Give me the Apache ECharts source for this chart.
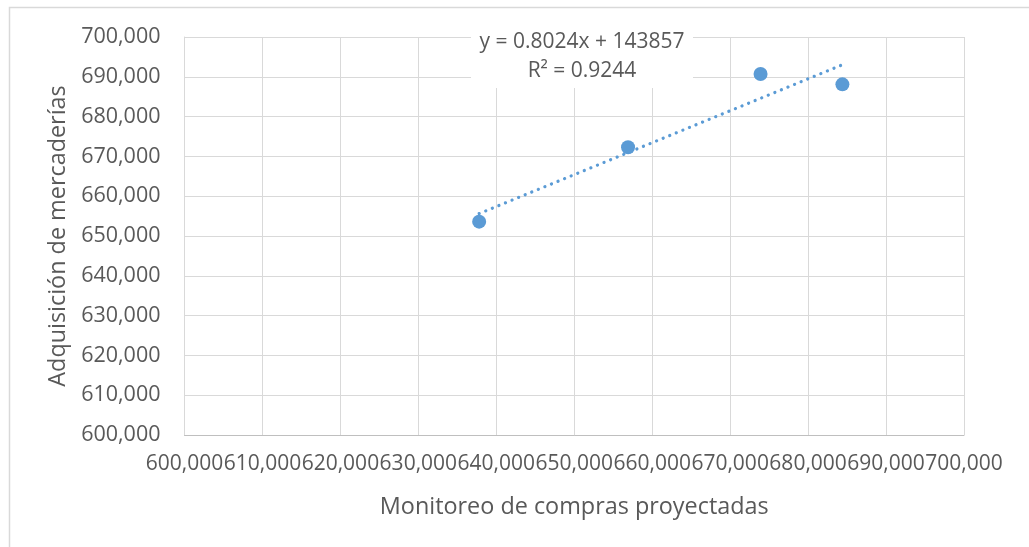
<!DOCTYPE html>
<html>
<head>
<meta charset="utf-8">
<script src="https://cdn.jsdelivr.net/npm/echarts@6/dist/echarts.min.js"></script>
<style>
  html, body { margin: 0; padding: 0; background: #fff; }
  #container { width: 1029px; height: 547px; }
</style>
</head>
<body>
<div id="container"></div>
<script>
var dom = document.getElementById('container');
var myChart = echarts.init(dom, null, { renderer: 'canvas' });

// datos
var comprasProyectadas = [637800, 656900, 673900, 684400];
var adquisicionMercaderias = [653600, 672300, 690700, 688100];
// linea de tendencia (Excel)
var trendSlope = 0.8024;
var trendIntercept = 143857;
var trendLabel = ['y = 0.8024x + 143857', 'R\u00b2 = 0.9244'];

var axisMin = 600000;
var axisMax = 700000;
var axisStep = 10000;

var textColor = '#595959';
var font = 'Open Sans';

var points = comprasProyectadas.map(function (x, i) {
  return [x, adquisicionMercaderias[i]];
});
var xLo = Math.min.apply(null, comprasProyectadas);
var xHi = Math.max.apply(null, comprasProyectadas);
var trendData = [
  [xLo, trendSlope * xLo + trendIntercept],
  [xHi, trendSlope * xHi + trendIntercept]
];

function fmt(v) {
  return v.toLocaleString('en-US');
}

var option = {
  animation: false,
  backgroundColor: '#fff',
  grid: { left: 184.5, right: 65, top: 37, bottom: 112 },
  xAxis: {
    type: 'value',
    min: axisMin,
    max: axisMax,
    interval: axisStep,
    name: 'Monitoreo de compras proyectadas',
    nameLocation: 'middle',
    nameGap: 61,
    nameTextStyle: { color: textColor, fontFamily: font, fontSize: 23.4 },
    axisLine: { show: true, lineStyle: { color: '#bfbfbf', width: 1 } },
    axisTick: { show: false },
    axisLabel: {
      color: textColor, fontFamily: font, fontSize: 21, margin: 19,
      interval: 0, hideOverlap: false, showMinLabel: true, showMaxLabel: true,
      formatter: fmt
    },
    splitLine: { show: true, lineStyle: { color: '#d9d9d9', width: 1 } }
  },
  yAxis: {
    type: 'value',
    min: axisMin,
    max: axisMax,
    interval: axisStep,
    name: 'Adquisición de mercaderías',
    nameLocation: 'middle',
    nameGap: 110,
    nameTextStyle: { color: textColor, fontFamily: font, fontSize: 23.4 },
    axisLine: { show: true, lineStyle: { color: '#d9d9d9', width: 1 } },
    axisTick: { show: false },
    axisLabel: {
      color: textColor, fontFamily: font, fontSize: 21.5, margin: 24,
      showMinLabel: true, showMaxLabel: true, formatter: fmt
    },
    splitLine: { show: true, lineStyle: { color: '#d9d9d9', width: 1 } }
  },
  series: [
    {
      type: 'line',
      data: trendData,
      symbol: 'none',
      silent: true,
      z: 2,
      lineStyle: { color: '#5b9bd5', width: 3.2, type: [0.1, 7], cap: 'round' }
    },
    {
      type: 'scatter',
      data: points,
      symbol: 'circle',
      symbolSize: 14,
      z: 3,
      itemStyle: { color: '#5b9bd5', opacity: 1 }
    }
  ],
  graphic: [
    // borde del area del grafico
    {
      type: 'rect', silent: true,
      shape: { x: 9.5, y: 7.5, width: 1100, height: 600 },
      style: { fill: null, stroke: '#d9d9d9', lineWidth: 1.5 }
    },
    {
      type: 'rect', silent: true, z: 10,
      shape: { x: 471, y: 22, width: 222, height: 66 },
      style: { fill: '#fff' }
    },
    {
      type: 'text', silent: true, z: 11,
      x: 582, y: 42,
      style: {
        text: trendLabel[0], fill: textColor, font: '21px "Open Sans"',
        align: 'center', verticalAlign: 'middle'
      }
    },
    {
      type: 'text', silent: true, z: 11,
      x: 582, y: 71,
      style: {
        text: trendLabel[1], fill: textColor, font: '21px "Open Sans"',
        align: 'center', verticalAlign: 'middle'
      }
    }
  ]
};

myChart.setOption(option);
window.addEventListener('resize', myChart.resize);
</script>
</body>
</html>
